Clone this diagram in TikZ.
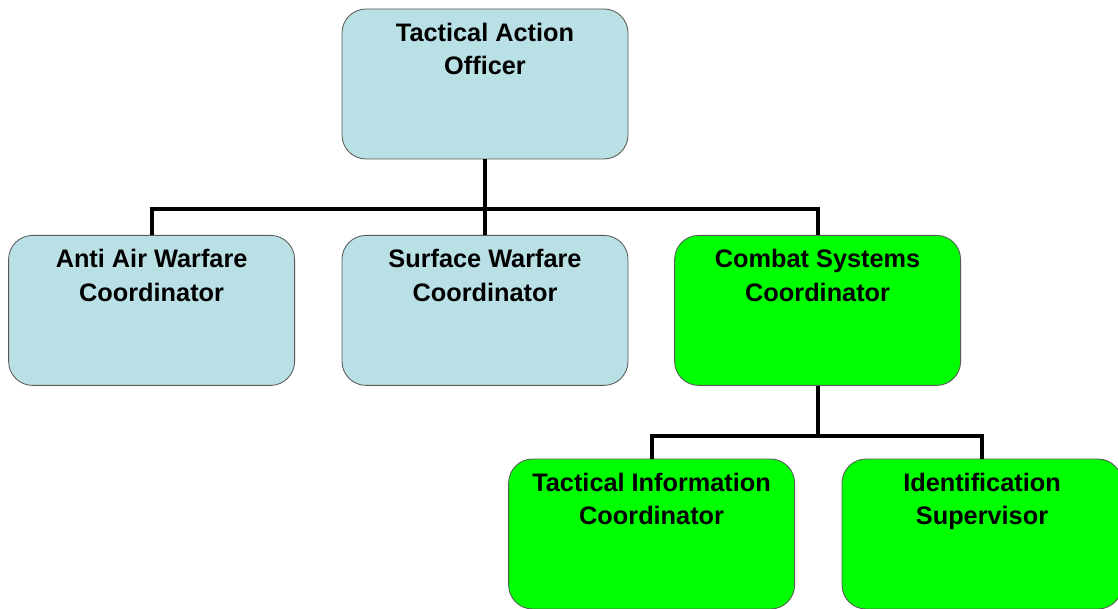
\documentclass[tikz,border=0pt]{standalone}
\usepackage{fontspec}
\setmainfont{Liberation Sans}
\usetikzlibrary{positioning}
\definecolor{bluebox}{RGB}{185,224,228}
\definecolor{greenbox}{RGB}{0,255,0}

\begin{document}
\begin{tikzpicture}[node distance=0.35cm]
    \tikzstyle{role}=[rectangle, rounded corners=0.6cm, draw=black!65, line width=0.6pt, minimum width=7.15cm, minimum height=3.75cm, inner sep=0pt]
    \tikzstyle{staff role}=[role, fill=bluebox];
    \tikzstyle{systems role}=[role, fill=greenbox];
    \tikzstyle{role text}=[align=center, inner sep=0pt, font=\bfseries\fontsize{18}{24}\selectfont]
    \tikzstyle{link}=[draw=black, line width=2.8pt]

    \useasboundingbox (0,0) rectangle (27.95,-15.225);

    % Draw the boxes
    \node[staff role] (TAO) at (12.125,-2.1) {};
    \node[staff role] (AAW) at (3.79,-7.76) {};
    \node[staff role] (SUW) at (12.125,-7.76) {};
    \node[systems role] (CSC) at (20.44,-7.76) {};
    \node[systems role] (TIC) at (16.29,-13.35) {};
    \node[systems role, minimum width=7.0cm] (IDS) at (24.55,-13.35) {};

    % Connect the boxes
    \draw[link] (TAO.south) -- ++(0,-1.25) -| (AAW.north);
    \draw[link] (TAO.south) -- (SUW.north);
    \draw[link] (TAO.south) -- ++(0,-1.25) -| (CSC.north);
    \draw[link] (CSC.south) -- ++(0,-1.25) -| (TIC.north);
    \draw[link] (CSC.south) -- ++(0,-1.25) -| (IDS.north);

    % Name the roles
    \node[role text, below=of TAO.north] (TAO-text) {Tactical Action\\Officer};
    \node[role text, below=of AAW.north] (AAW-text) {Anti Air Warfare\\Coordinator};
    \node[role text, below=of SUW.north] (SUW-text) {Surface Warfare\\Coordinator};
    \node[role text, below=of CSC.north] (CSC-text) {Combat Systems\\Coordinator};
    \node[role text, below=of TIC.north] (TIC-text) {Tactical Information\\Coordinator};
    \node[role text, below=of IDS.north] (IDS-text) {Identification\\Supervisor};
\end{tikzpicture}
\end{document}
